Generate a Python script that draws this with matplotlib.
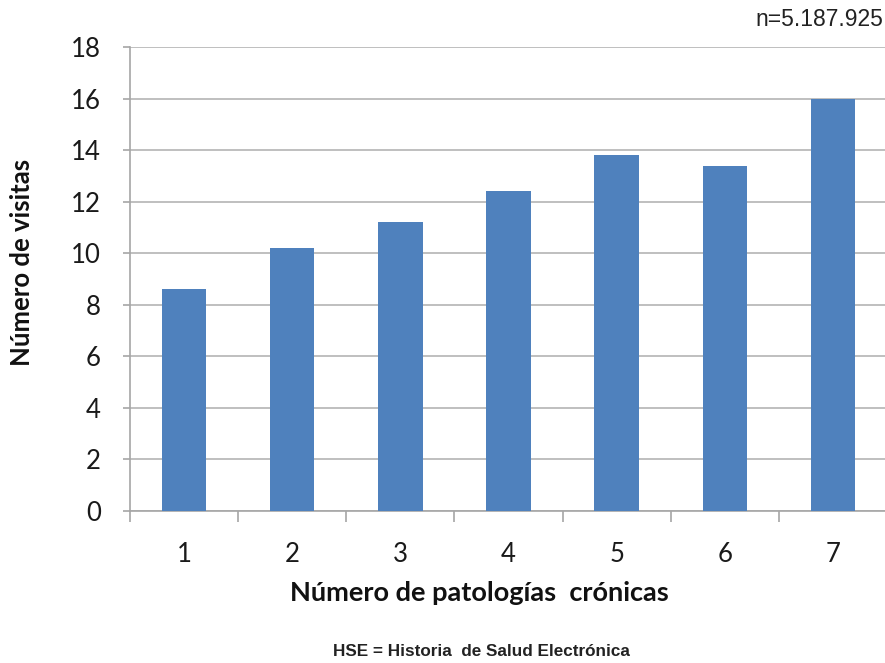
import matplotlib
matplotlib.use("Agg")
import matplotlib.pyplot as plt
from matplotlib.ticker import FixedLocator

plt.rcParams["font.family"] = ["Lato", "DejaVu Sans"]

categorias = [1, 2, 3, 4, 5, 6, 7]
visitas = [8.6, 10.2, 11.2, 12.4, 13.8, 13.4, 16.0]
yticks = [0, 2, 4, 6, 8, 10, 12, 14, 16, 18]

fig = plt.figure(figsize=(8.85, 6.63), dpi=100)
ax = fig.add_axes([130 / 885, 152 / 663, 757 / 885, 464 / 663])

ax.bar(categorias, visitas, width=0.41, color="#4F81BD", zorder=3)

ax.set_xlim(0.5, 7.5)
ax.set_ylim(0, 18)
ax.set_yticks(yticks)
ax.set_xticks(categorias)
ax.xaxis.set_minor_locator(FixedLocator([c - 0.5 for c in categorias]))

ax.grid(axis="y", color="#b4b4b4", linewidth=1.2, zorder=0)
for s in ["top", "right"]:
    ax.spines[s].set_visible(False)
for s in ["left", "bottom"]:
    ax.spines[s].set_color("#a6a6a6")
    ax.spines[s].set_linewidth(1.2)

ax.tick_params(axis="y", length=5, width=1.2, color="#a6a6a6", pad=16,
               labelsize=18.5, labelcolor="#1a1a1a")
ax.tick_params(axis="x", which="major", length=0, pad=22,
               labelsize=18.5, labelcolor="#1a1a1a")
ax.tick_params(axis="x", which="minor", length=8, width=1.2, color="#a6a6a6")

fig.text(22 / 885, 1 - 262 / 663, "Número de visitas", rotation=90,
         ha="center", va="center", fontsize=18.5, fontweight="bold", color="#111111")
fig.text(479 / 885, 1 - 593 / 663, "Número de patologías  crónicas",
         ha="center", va="center", fontsize=19.5, fontweight="bold", color="#111111")

fig.text(883 / 885, 1 - 20 / 663, "n=5.187.925", ha="right", va="center",
         fontsize=16.5, color="#222222", family="Liberation Sans")
fig.text(481 / 885, 1 - 652 / 663, "HSE = Historia  de Salud Electrónica",
         ha="center", va="center", fontsize=12.3, fontweight="bold",
         color="#222222", family="Liberation Sans")

fig.savefig("out.png", dpi=100)
